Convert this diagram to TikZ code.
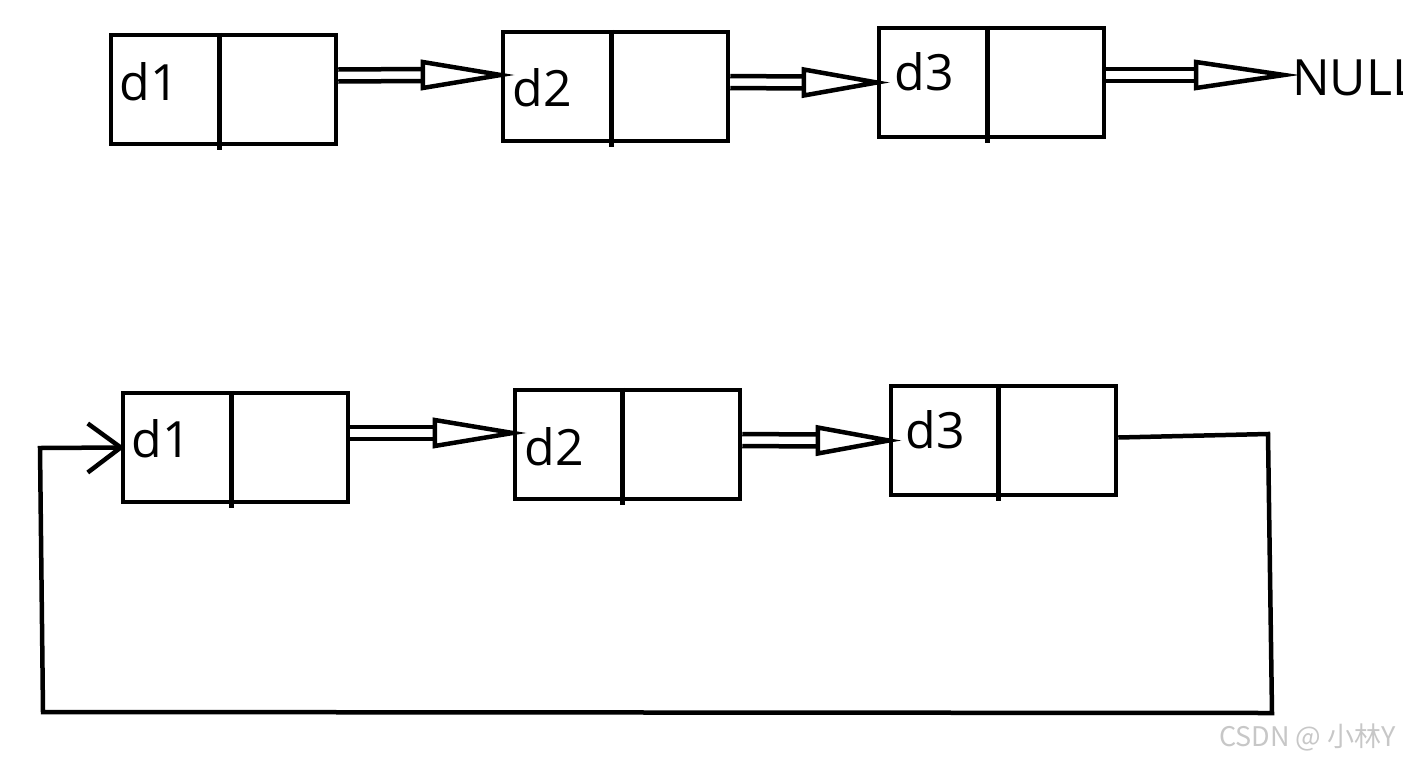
\documentclass[tikz,border=0pt]{standalone}
\usepackage{fontspec}
\setmainfont{Open Sans}
\newfontfamily\cjkfont{Noto Sans CJK SC}
\usetikzlibrary{calc}
\tikzset{
  cell/.style={draw, line width=4.5pt, minimum width=225pt, minimum height=109pt, inner sep=0pt},
  lbl/.style={font=\fontsize{50}{60}\selectfont, anchor=base west, inner sep=0pt},
  ln/.style={line width=4.5pt, line join=miter},
}
\newcommand\dblarrow[3]{% start, tip, head length
  \coordinate (hb) at ($(#2)+(-#3,0)$);
  \draw[ln] ($(#1)+(0,-6)$) -- ($(hb)+(0,-6)$);
  \draw[ln] ($(#1)+(0,6)$) -- ($(hb)+(0,6)$);
  \draw[ln] ($(hb)+(0,-13)$) -- (#2) -- ($(hb)+(0,13)$) -- cycle;
}
\begin{document}
\begin{tikzpicture}[x=1pt,y=-1pt]
\useasboundingbox (0,0) rectangle (1403,761);
% top row
\node[cell] (t1) at (223.5,89.5) {};
\node[cell] (t2) at (615.5,86.5) {};
\node[cell] (t3) at (991.5,82.5) {};
\draw[ln] ($(t1.north)+(-4,0)$) -- ($(t1.south)+(-4,4)$);
\draw[ln] ($(t2.north)+(-4,0)$) -- ($(t2.south)+(-4,4)$);
\draw[ln] ($(t3.north)+(-4,0)$) -- ($(t3.south)+(-4,4)$);
\node[lbl] (t1l) at ($(t1.west)+(11,10.5)$) {d1};
\node[lbl] (t2l) at ($(t2.west)+(12,19.5)$) {d2};
\node[lbl] (t3l) at ($(t3.west)+(18,7.5)$) {d3};
\node[lbl] (null) at (1292,95) {NULL};
\coordinate (nulltip) at (1284,75);
\coordinate (s1) at ($(t1.east)+(0,-14)$);
\coordinate (e1) at ($(t2.west)+(0,-11.5)$);
\dblarrow{s1}{e1}{78}
\coordinate (s2) at ($(t2.east)+(0,-4.5)$);
\coordinate (e2) at (t3.west);
\dblarrow{s2}{e2}{73}
\coordinate (s3) at ($(t3.east)+(0,-7.5)$);
\dblarrow{s3}{nulltip}{88}
% bottom row
\node[cell] (b1) at (235.5,447.5) {};
\node[cell] (b2) at (627.5,444.5) {};
\node[cell] (b3) at (1003.5,440.5) {};
\draw[ln] ($(b1.north)+(-4,0)$) -- ($(b1.south)+(-4,4)$);
\draw[ln] ($(b2.north)+(-5,0)$) -- ($(b2.south)+(-5,4)$);
\draw[ln] ($(b3.north)+(-5,0)$) -- ($(b3.south)+(-5,4)$);
\node[lbl] (b1l) at ($(b1.west)+(11,9.5)$) {d1};
\node[lbl] (b2l) at ($(b2.west)+(12,20.5)$) {d2};
\node[lbl] (b3l) at ($(b3.west)+(17,7.5)$) {d3};
\coordinate (bs1) at ($(b1.east)+(0,-14.5)$);
\coordinate (be1) at ($(b2.west)+(0,-11.5)$);
\dblarrow{bs1}{be1}{78}
\coordinate (bs2) at ($(b2.east)+(0,-4.5)$);
\coordinate (be2) at (b3.west);
\dblarrow{bs2}{be2}{71}
% loop back
\coordinate (c1) at (1268,434);
\coordinate (c2) at (1272,713);
\coordinate (c3) at (43,712);
\coordinate (c4) at (40,448);
\draw[ln] ($(b3.east)+(0,-3)$) -- (c1) -- (c2) -- (c3) -- (c4) -- (b1.west);
\draw[ln] ($(b1.west)+(-33,-24)$) -- (b1.west) -- ($(b1.west)+(-33,25)$);
% watermark
\node[anchor=base west, inner sep=0pt, text=black!22, font=\cjkfont\fontsize{27}{32}\selectfont] (wm) at (1219,746) {CSDN @ 小林Y};
\end{tikzpicture}
\end{document}
